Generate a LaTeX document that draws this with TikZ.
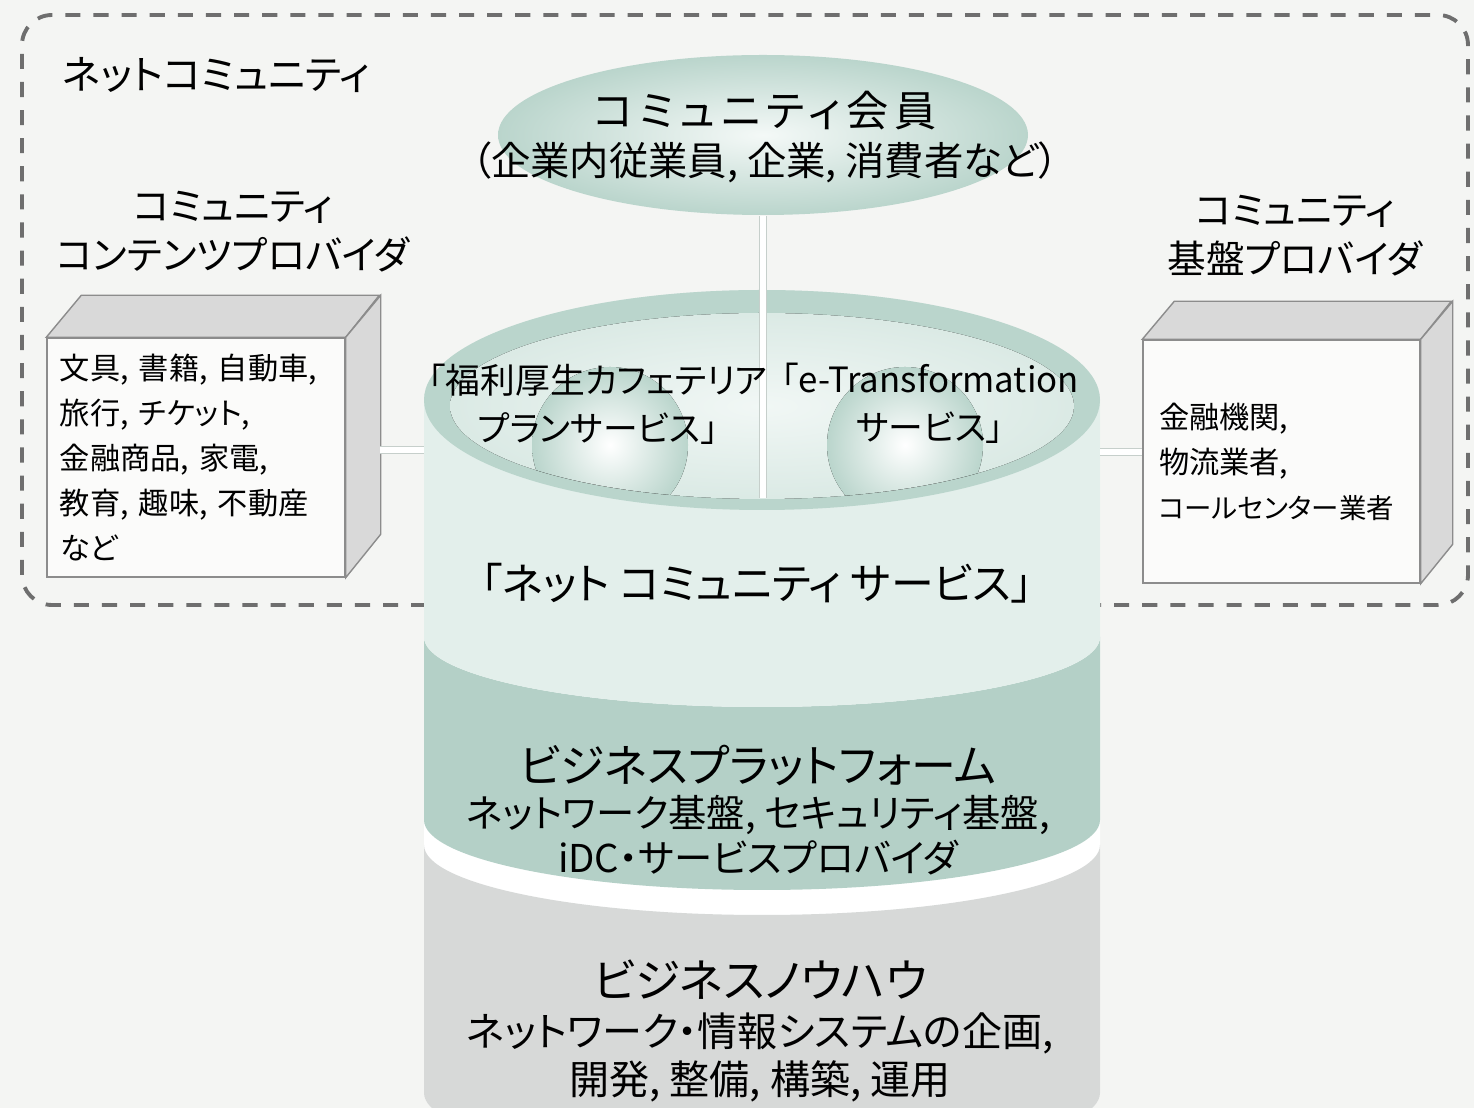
\documentclass[tikz,border=0pt]{standalone}
\usepackage{fontspec}
\setmainfont[RawFeature=+palt]{Noto Sans CJK JP}
\usetikzlibrary{shapes.geometric}

\definecolor{paper}{HTML}{F4F5F3}
\definecolor{rim}{HTML}{6E6E6E}
\definecolor{mint}{HTML}{E3EFEB}
\definecolor{mintdark}{HTML}{BAD5CC}
\definecolor{sage}{HTML}{B4D0C7}
\definecolor{stone}{HTML}{D7D9D8}
\definecolor{boxline}{HTML}{8C8C8C}
\definecolor{boxside}{HTML}{D9D9D9}
\definecolor{linkline}{HTML}{C6CFCB}

\begin{document}
\begin{tikzpicture}[
		lbl/.style={font=\fontsize{11}{14}\selectfont, align=center},
		boxtext/.style={font=\fontsize{8.6}{12.8}\selectfont, align=left},
		front/.style={draw=boxline, fill=white!60!paper, rectangle, inner sep=0pt},
		side/.style={draw=boxline, fill=boxside},
		link/.style={draw=linkline, line width=0.4pt, double=white, double distance=1.6pt}
	]
	\useasboundingbox (0,0) rectangle (14.74,11.08);
	\fill [paper] (0,0) rectangle (14.74,11.08);

	% dashed frame of the net community
	\draw [rim, line width=1.1pt, dash pattern=on 4.3pt off 3.7pt, rounded corners=0.3cm] (0.22,5.03) rectangle (14.68,10.93);
	\node [lbl, font=\fontsize{11.4}{14}\selectfont, anchor=west] (nettitle) at (0.5,10.33) {ネットコミュニティ};

	% members on top
	\node [ellipse, minimum width=5.3cm, minimum height=1.6cm, inner color=mint!40!white, outer color=mintdark] (member) at (7.63,9.73) {};

	% cylinder: white under the gap, then the three layers
	\fill [white] (4.24,7.08) -- (4.24,0.15) arc [start angle=180, end angle=360, x radius=3.38, y radius=0.7] -- (11.0,7.08) -- cycle;
	\fill [stone] (4.24,2.63) arc [start angle=180, end angle=360, x radius=3.38, y radius=0.7] -- (11.0,0.15) arc [start angle=0, end angle=-180, x radius=3.38, y radius=0.7] -- cycle;
	\fill [sage] (4.24,4.71) arc [start angle=180, end angle=360, x radius=3.38, y radius=0.7] -- (11.0,2.88) arc [start angle=0, end angle=-180, x radius=3.38, y radius=0.7] -- cycle;
	\fill [mint] (4.24,7.08) -- (4.24,4.71) arc [start angle=180, end angle=360, x radius=3.38, y radius=0.7] -- (11.0,7.08) arc [start angle=0, end angle=180, x radius=3.38, y radius=1.1] -- cycle;

	% top face with the two service balls
	\fill [mintdark] (7.62,7.08) ellipse [x radius=3.38, y radius=1.1];
	\fill [inner color=mint!50!white, outer color=mint!80!mintdark] (7.62,7.02) ellipse [x radius=3.12, y radius=0.93];
	\begin{scope}
		\clip (7.62,7.02) ellipse [x radius=3.12, y radius=0.93];
		\fill [inner color=white, outer color=mintdark] (6.1,6.63) circle [radius=0.78];
		\fill [inner color=white, outer color=mintdark] (9.05,6.63) circle [radius=0.78];
	\end{scope}

	% provider boxes
	\node [front, boxtext, text width=2.72cm, minimum width=2.98cm, minimum height=2.39cm] (contents) at (1.96,6.505) {文具, 書籍, 自動車,\\旅行, チケット,\\金融商品, 家電,\\教育, 趣味, 不動産\\など};
	\draw [side] (contents.north west) -- ++(0.35,0.42) -- ++(2.98,0) -- (contents.north east) -- cycle;
	\draw [side] (contents.north east) -- ++(0.35,0.42) -- ++(0,-2.39) -- (contents.south east) -- cycle;

	\node [front, boxtext, text width=2.45cm, minimum width=2.77cm, minimum height=2.43cm] (infra) at (12.815,6.465) {金融機関,\\物流業者,\\{\fontsize{7.8}{12}\selectfont コールセンター業者}};
	\draw [side] (infra.north west) -- ++(0.32,0.38) -- ++(2.77,0) -- (infra.north east) -- cycle;
	\draw [side] (infra.north east) -- ++(0.32,0.38) -- ++(0,-2.43) -- (infra.south east) -- cycle;

	% links
	\coordinate (hub) at (7.63,6.1);
	\coordinate (cpjoin) at (3.80,6.58);
	\coordinate (cylwest) at (4.24,6.58);
	\coordinate (cyleast) at (11.0,6.56);
	\draw [link] (member.south) -- (hub);
	\draw [link] (cpjoin) -- (cylwest);
	\draw [link] (cyleast) -- (cyleast -| infra.west);

	% labels
	\node [lbl, font=\fontsize{11.2}{14}\selectfont] (membertext) at (7.65,9.71) {{\fontsize{12}{14}\selectfont\addfontfeature{LetterSpace=14}コミュニティ会員}\\（企業内従業員, 企業, 消費者など）};
	\node [lbl] (cplabel) at (2.33,8.76) {コミュニティ\\コンテンツプロバイダ};
	\node [lbl] (iplabel) at (12.95,8.72) {コミュニティ\\基盤プロバイダ};
	\node [lbl, font=\fontsize{9.9}{13.6}\selectfont] (cafe) at (5.98,7.04) {「福利厚生カフェテリア\\プランサービス」};
	\node [lbl, font=\fontsize{9.9}{13.6}\selectfont] (etrans) at (9.3,7.05) {「e-Transformation\\サービス」};
	\node [lbl, font=\fontsize{12.2}{14}\selectfont] (netsvc) at (7.57,5.25) {「ネット コミュニティ サービス」};
	\node [lbl, font=\fontsize{10.9}{12.8}\selectfont] (platform) at (7.58,2.98) {{\fontsize{12.8}{12.8}\selectfont ビジネスプラットフォーム}\\ネットワーク基盤, セキュリティ基盤,\\iDC・サービスプロバイダ};
	\node [lbl, font=\fontsize{11.4}{13.9}\selectfont] (knowhow) at (7.6,0.77) {{\fontsize{13}{13.9}\selectfont ビジネスノウハウ}\\ネットワーク・情報システムの企画,\\開発, 整備, 構築, 運用};
\end{tikzpicture}
\end{document}
